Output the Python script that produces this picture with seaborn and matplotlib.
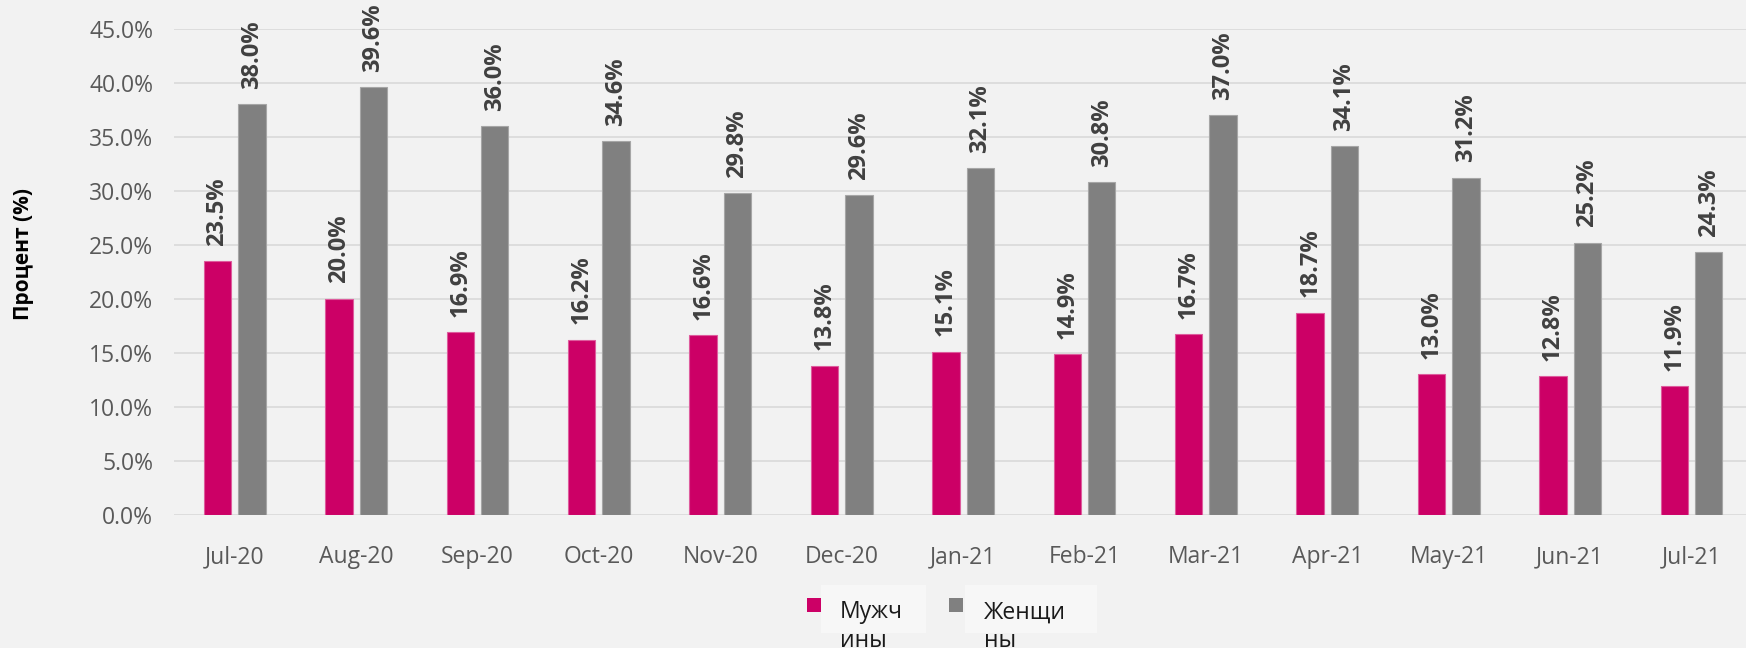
import pandas as pd
import numpy as np
import matplotlib
matplotlib.use('Agg')
import matplotlib.pyplot as plt
from matplotlib.patches import Rectangle
from matplotlib.ticker import FuncFormatter
import seaborn as sns

# Data
months = ['Jul-20', 'Aug-20', 'Sep-20', 'Oct-20', 'Nov-20', 'Dec-20', 'Jan-21',
          'Feb-21', 'Mar-21', 'Apr-21', 'May-21', 'Jun-21', 'Jul-21']
men = [23.5, 20.0, 16.9, 16.2, 16.6, 13.8, 15.1, 14.9, 16.7, 18.7, 13.0, 12.8, 11.9]
women = [38.0, 39.6, 36.0, 34.6, 29.8, 29.6, 32.1, 30.8, 37.0, 34.1, 31.2, 25.2, 24.3]
series_names = ['Мужчины', 'Женщины']
legend_texts = ['Мужч\nины', 'Женщи\nны']
colors = ['#CC0066', '#808080']
edge_colors = ['#DE5C9D', '#A6A6A6']

df = pd.DataFrame({
    'month': months * 2,
    'value': men + women,
    'sex': [series_names[0]] * len(months) + [series_names[1]] * len(months),
})

sns.set_theme(style='white')
plt.rcParams['font.family'] = ['Open Sans', 'DejaVu Sans']

bg = '#F2F2F2'
fig = plt.figure(figsize=(17.46, 6.48), dpi=100, facecolor=bg)
ax = fig.add_axes([174 / 1746, 1 - 514.7 / 648, 13 * 121.4 / 1746, (514.7 - 28.7) / 648])
ax.set_facecolor(bg)

sns.barplot(data=df, x='month', y='value', hue='sex', order=months,
            hue_order=series_names, palette=colors, width=0.566, gap=0.2,
            saturation=1, legend=False, ax=ax, zorder=3)

for cont, ec in zip(ax.containers, edge_colors):
    for p in cont:
        p.set_edgecolor(ec)
        p.set_linewidth(0.8)
    ax.bar_label(cont, labels=[f'{v:.1f}%' for v in cont.datavalues],
                 rotation=90, padding=11, fontsize=17, fontweight='bold',
                 color='#404040')

ax.set_ylim(0, 45)
ax.set_xlim(-0.5, len(months) - 0.5)
ax.set_yticks(np.arange(0, 46, 5))
ax.yaxis.set_major_formatter(FuncFormatter(lambda v, _: f'{v:.1f}%'))
ax.grid(axis='y', color='#D9D9D9', linewidth=1.2, zorder=0)
ax.set_axisbelow(True)
for s in ax.spines.values():
    s.set_visible(False)
ax.tick_params(axis='both', length=0, labelsize=16.5, labelcolor='#595959')
ax.tick_params(axis='y', pad=15)
ax.tick_params(axis='x', pad=22)
ax.set_xlabel('')
ax.set_ylabel('')

fig.text(23 / 1746, 1 - 254.5 / 648, 'Процент (%)', rotation=90, ha='center',
         va='center', fontsize=15, fontweight='bold', color='black')

# legend: colour squares with pale text boxes, text wrapped as in the source
legend_items = [(807, 821, 926, legend_texts[0], colors[0]),
                (949, 965, 1097, legend_texts[1], colors[1])]
for sq_x, box_x0, box_x1, txt, col in legend_items:
    fig.patches.append(Rectangle((box_x0 / 1746, 1 - 633 / 648),
                                 (box_x1 - box_x0) / 1746, 48 / 648,
                                 transform=fig.transFigure, facecolor='#F7F7F7',
                                 edgecolor='none'))
    fig.patches.append(Rectangle((sq_x / 1746, 1 - 612 / 648), 14 / 1746, 14 / 648,
                                 transform=fig.transFigure, facecolor=col,
                                 edgecolor='none'))
    fig.text((box_x0 + 19) / 1746, 1 - 600.5 / 648, txt, ha='left',
             va='top', fontsize=16.5, color='#1A1A1A', linespacing=1.25)

fig.savefig('out.png', dpi=100, facecolor=bg)
